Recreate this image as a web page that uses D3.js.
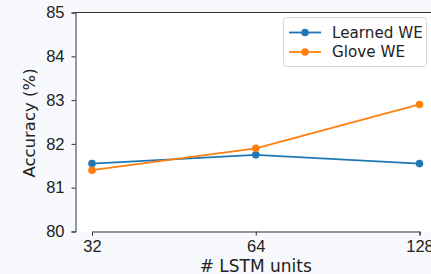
<!DOCTYPE html>
<html>
<head>
<meta charset="utf-8">
<script src="https://cdn.jsdelivr.net/npm/d3@7"></script>
<style>
  body { margin: 0; background: #f8f9fd; }
  svg { display: block; }
</style>
</head>
<body>
<div id="chart"></div>
<script>
// data
const units = [32, 64, 128];
const learnedWE = [81.55, 81.75, 81.55];
const gloveWE = [81.4, 81.9, 82.9];
const yTicks = [80, 81, 82, 83, 84, 85];
const seriesNames = ["Learned WE", "Glove WE"];
const colors = ["#1f77b4", "#ff7f0e"];

const width = 431, height = 274;
const plotLeft = 75.5, plotTop = 12.5, plotRight = 437, plotBottom = 231.5;
const fs = 16.5;

const svg = d3.select("#chart").append("svg")
    .attr("width", width)
    .attr("height", height)
    .attr("font-family", "DejaVu Sans, sans-serif");

const x = d3.scaleLog().base(2)
    .domain([32, 128])
    .range([92, 419.5]);

const y = d3.scaleLinear()
    .domain([80, 85])
    .range([plotBottom, plotTop]);

// plot area
svg.append("rect")
    .attr("x", plotLeft).attr("y", plotTop)
    .attr("width", plotRight - plotLeft).attr("height", plotBottom - plotTop)
    .attr("fill", "#fff");

const xAxis = svg.append("g")
    .attr("transform", `translate(0,${plotBottom})`)
    .call(d3.axisBottom(x).tickValues(units).tickFormat(d3.format("d"))
        .tickSizeOuter(0).tickSize(4).tickPadding(5));
xAxis.selectAll("text").attr("font-size", fs).attr("fill", "#222");

const yAxis = svg.append("g")
    .attr("transform", `translate(${plotLeft},0)`)
    .call(d3.axisLeft(y).tickValues(yTicks).tickFormat(d3.format("d"))
        .tickSizeOuter(0).tickSize(4).tickPadding(7));
yAxis.selectAll("text").attr("font-size", fs).attr("fill", "#222");

svg.selectAll(".domain").attr("stroke", "#333");
svg.selectAll(".tick line").attr("stroke", "#333");

// top spine
svg.append("line")
    .attr("x1", plotLeft).attr("x2", plotRight)
    .attr("y1", plotTop).attr("y2", plotTop)
    .attr("stroke", "#333");

const line = d3.line()
    .x((d, i) => x(units[i]))
    .y(d => y(d));

[learnedWE, gloveWE].forEach((vals, k) => {
    svg.append("path")
        .datum(vals)
        .attr("fill", "none")
        .attr("stroke", colors[k])
        .attr("stroke-width", 1.8)
        .attr("d", line);
    svg.append("g").selectAll("circle")
        .data(vals)
        .join("circle")
        .attr("cx", (d, i) => x(units[i]))
        .attr("cy", d => y(d))
        .attr("r", 3.8)
        .attr("fill", colors[k]);
});

// axis labels
svg.append("text")
    .attr("x", x(64)).attr("y", 271.5)
    .attr("text-anchor", "middle")
    .attr("font-size", 17)
    .attr("fill", "#222")
    .text("# LSTM units");

svg.append("text")
    .attr("transform", `translate(35,${(plotTop + plotBottom) / 2 + 1}) rotate(-90)`)
    .attr("text-anchor", "middle")
    .attr("font-size", fs)
    .attr("fill", "#222")
    .text("Accuracy (%)");

// legend
const legend = svg.append("g");
legend.append("rect")
    .attr("x", 283.5).attr("y", 17.5)
    .attr("width", 143).attr("height", 49)
    .attr("rx", 3)
    .attr("fill", "#fff")
    .attr("stroke", "#d8d8d8");

seriesNames.forEach((name, k) => {
    const ly = 32.5 + k * 19.5;
    legend.append("line")
        .attr("x1", 289).attr("x2", 321)
        .attr("y1", ly).attr("y2", ly)
        .attr("stroke", colors[k]).attr("stroke-width", 1.8);
    legend.append("circle")
        .attr("cx", 305).attr("cy", ly).attr("r", 3.8)
        .attr("fill", colors[k]);
    legend.append("text")
        .attr("x", 332).attr("y", ly)
        .attr("dy", "0.36em")
        .attr("font-size", 15.2)
        .attr("fill", "#222")
        .text(name);
});
</script>
</body>
</html>
